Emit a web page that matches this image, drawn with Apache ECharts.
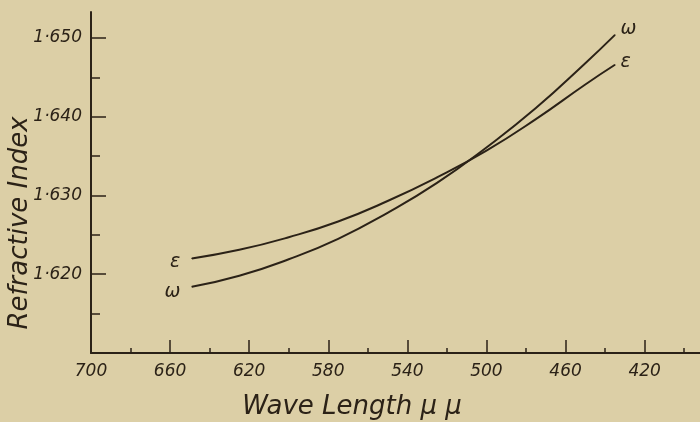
<!DOCTYPE html>
<html>
<head>
<meta charset="utf-8">
<script src="https://cdn.jsdelivr.net/npm/echarts@6/dist/echarts.min.js"></script>
<style>
  html, body { margin: 0; padding: 0; background: #dccfa6; }
  #chart { width: 700px; height: 422px; }
</style>
</head>
<body>
<div id="chart"></div>
<script>
  // wave length in millimicrons
  const waveLength = [649, 625, 600, 575, 550, 525, 500, 475, 450, 435]
  const omega = [1.6184, 1.6198, 1.6219, 1.6245, 1.6278, 1.6316, 1.6361, 1.6411, 1.6468, 1.6504]
  const epsilon = [1.6220, 1.6231, 1.6247, 1.6267, 1.6293, 1.6323, 1.6357, 1.6397, 1.6441, 1.6466]

  const xMajorTicks = [660, 620, 580, 540, 500, 460, 420]
  const xMinorTicks = [680, 640, 600, 560, 520, 480, 440, 400]
  const yMajorTicks = [1.62, 1.63, 1.64, 1.65]
  const yMinorTicks = [1.615, 1.625, 1.635, 1.645]
  const xLabels = [700, 660, 620, 580, 540, 500, 460, 420]

  const INK = '#2b2217'
  const FONT = "'DejaVu Sans', sans-serif"

  // label only the two ends of each curve
  const buildData = (values, name, leftOffset, rightOffset) =>
    values.map((v, i) => {
      const item = { value: [waveLength[i], v] }
      if (i === 0 || i === values.length - 1) {
        const first = i === 0
        item.symbol = 'circle'
        item.symbolSize = 1
        item.label = {
          show: true,
          formatter: name,
          position: first ? 'left' : 'right',
          distance: first ? 11 : 5,
          offset: first ? leftOffset : rightOffset,
          color: INK,
          fontFamily: FONT,
          fontStyle: 'italic',
          fontSize: 19
        }
      } else {
        item.symbol = 'none'
      }
      return item
    })

  const xBase = {
    type: 'value',
    min: 392,
    max: 700,
    inverse: true,
    position: 'bottom',
    splitLine: { show: false }
  }
  const yBase = {
    type: 'value',
    min: 1.61,
    max: 1.6533,
    position: 'left',
    splitLine: { show: false }
  }

  const option = {
    animation: false,
    backgroundColor: '#dccfa6',
    grid: { left: 91, right: 0, top: 12, bottom: 69 },
    xAxis: [
      {
        ...xBase,
        axisLine: { lineStyle: { color: INK, width: 2 } },
        axisTick: {
          inside: true,
          length: 13,
          customValues: xMajorTicks,
          lineStyle: { color: INK, width: 1.5 }
        },
        axisLabel: {
          customValues: xLabels,
          margin: 10,
          color: INK,
          fontFamily: FONT,
          fontStyle: 'italic',
          fontSize: 17
        }
      },
      {
        ...xBase,
        axisLine: { show: false },
        axisTick: {
          inside: true,
          length: 5,
          customValues: xMinorTicks,
          lineStyle: { color: INK, width: 1.5 }
        },
        axisLabel: { show: false }
      }
    ],
    yAxis: [
      {
        ...yBase,
        axisLine: { lineStyle: { color: INK, width: 2 } },
        axisTick: {
          inside: true,
          length: 15,
          customValues: yMajorTicks,
          lineStyle: { color: INK, width: 1.5 }
        },
        axisLabel: {
          customValues: yMajorTicks,
          margin: 9,
          color: INK,
          fontFamily: FONT,
          fontStyle: 'italic',
          fontSize: 17,
          formatter: (v) => v.toFixed(3).replace('.', '·')
        }
      },
      {
        ...yBase,
        axisLine: { show: false },
        axisTick: {
          inside: true,
          length: 9,
          customValues: yMinorTicks,
          lineStyle: { color: INK, width: 1.5 }
        },
        axisLabel: { show: false }
      }
    ],
    graphic: [
      {
        type: 'text',
        x: 352,
        y: 407,
        style: {
          text: 'Wave Length μ μ',
          fill: INK,
          font: 'italic 26px ' + FONT,
          textAlign: 'center',
          textVerticalAlign: 'middle'
        }
      },
      {
        type: 'text',
        x: 20,
        y: 223,
        rotation: Math.PI / 2,
        style: {
          text: 'Refractive Index',
          fill: INK,
          font: 'italic 26px ' + FONT,
          textAlign: 'center',
          textVerticalAlign: 'middle'
        }
      }
    ],
    series: [
      {
        name: 'ω',
        type: 'line',
        smooth: true,
        data: buildData(omega, 'ω', [0, 5], [0, -6]),
        lineStyle: { color: INK, width: 2 },
        itemStyle: { color: INK }
      },
      {
        name: 'ε',
        type: 'line',
        smooth: true,
        data: buildData(epsilon, 'ε', [0, 4], [0, -3]),
        lineStyle: { color: INK, width: 2 },
        itemStyle: { color: INK }
      }
    ]
  }

  const chart = echarts.init(document.getElementById('chart'))
  chart.setOption(option)
</script>
</body>
</html>
